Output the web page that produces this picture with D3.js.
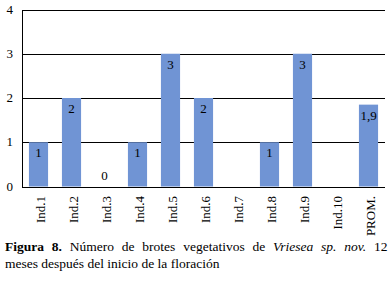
<!DOCTYPE html>
<html><head><meta charset="utf-8">
<script src="https://cdn.jsdelivr.net/npm/d3@7/dist/d3.min.js"></script>
<style>body{margin:0;background:#fff}svg{display:block}svg text{font-family:"Times New Roman",Times,"Liberation Serif",Tinos,serif}</style>
</head><body>
<script>
const categories = ["Ind.1","Ind.2","Ind.3","Ind.4","Ind.5","Ind.6","Ind.7","Ind.8","Ind.9","Ind.10","PROM."];
const values = [1,2,0,1,3,2,null,1,3,null,1.85];
const valueLabels = ["1","2","0","1","3","2","","1","3","","1,9"];
const yTicks = [0,1,2,3,4];

const W=388,H=284;
const svg=d3.select("body").append("svg").attr("width",W).attr("height",H);
const x=d3.scaleBand().domain(categories).range([22,385]).paddingInner(0.42).paddingOuter(0.21);
const y=d3.scaleLinear().domain([0,4]).range([186.5,9.5]);

svg.append("g").selectAll("line").data(yTicks).join("line")
 .attr("x1",22).attr("x2",385).attr("y1",d=>Math.round(y(d))+0.5).attr("y2",d=>Math.round(y(d))+0.5)
 .attr("stroke","#000").attr("stroke-width",1);

const rows=categories.map((c,i)=>({c,v:values[i],l:valueLabels[i]}));
svg.append("g").selectAll("rect").data(rows.filter(d=>d.v!==null&&d.v>0)).join("rect")
 .attr("x",d=>x(d.c)).attr("width",x.bandwidth()).attr("y",d=>y(d.v)).attr("height",d=>y(0)-y(d.v))
 .attr("fill","#7094d4");

svg.append("line").attr("x1",22.5).attr("x2",22.5).attr("y1",Math.round(y(4))).attr("y2",Math.round(y(0))+1).attr("stroke","#000");

svg.append("g").selectAll("text").data(rows.filter(d=>d.l!=="")).join("text")
 .attr("x",d=>x(d.c)+x.bandwidth()/2).attr("y",d=>d.v>0?y(d.v)+15:y(0)-7)
 .attr("text-anchor","middle").attr("font-size",13).attr("fill","#000").text(d=>d.l);

svg.append("g").selectAll("text").data(yTicks).join("text")
 .attr("x",13).attr("y",d=>y(d)+4).attr("text-anchor","end").attr("font-size",13).attr("fill","#000").text(d=>d);

svg.append("g").selectAll("text").data(categories).join("text")
 .attr("transform",d=>`translate(${x(d)+x.bandwidth()/2+6},196) rotate(-90)`)
 .attr("text-anchor","end").attr("font-size",13).attr("fill","#000").text(d=>d);

// caption
const cap=svg.append("text").attr("x",5).attr("y",251).attr("font-size",13.5).attr("fill","#000");
cap.append("tspan").attr("font-weight","bold").text("Figura 8.");
cap.append("tspan").text(" Número de brotes vegetativos de ");
cap.append("tspan").attr("font-style","italic").text("Vriesea sp. nov.");
cap.append("tspan").text(" 12");
const wlen=cap.node().getComputedTextLength();
const spaces=9;
cap.style("word-spacing",((383-5-wlen)/spaces)+"px");
svg.append("text").attr("x",5).attr("y",268).attr("font-size",13.5).attr("fill","#000").text("meses después del inicio de la floración");
</script>
</body></html>
